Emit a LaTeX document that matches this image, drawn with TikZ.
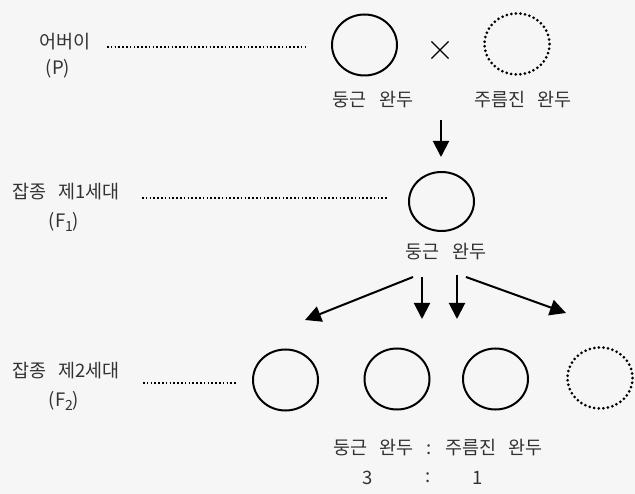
\documentclass[tikz,border=0pt]{standalone}
\usepackage{fontspec}
\setmainfont{Liberation Sans}
\newfontfamily\kr[WordSpace=3]{Noto Sans CJK KR}
\usetikzlibrary{arrows.meta,shapes.geometric,shapes.misc}
\definecolor{bgc}{RGB}{246,246,246}
\definecolor{txtc}{RGB}{50,50,50}
\tikzset{
  ell/.style={ellipse, draw=black, line width=2pt, minimum width=65pt, minimum height=61pt, inner sep=0pt},
  dotcirc/.style={line width=3pt, line cap=round, dash pattern=on 0pt off 4.6pt},
  lbl/.style={font=\kr\fontsize{18.5}{20}\selectfont, text=txtc, inner sep=0pt},
  dotline/.style={line width=1.6pt, dash pattern=on 1.6pt off 2.2pt},
  arr/.style={line width=2pt, -{Triangle[width=16pt,length=16pt]}},
  crossmark/.style={cross out, draw=black, line width=1.2pt, minimum width=16pt, minimum height=16pt, inner sep=0pt}
}
\begin{document}
\begin{tikzpicture}[x=1pt,y=-1pt]
\fill[bgc] (0,0) rectangle (635,494);
\useasboundingbox (0,0) rectangle (635,494);
% P row
\node[lbl] (pa) at (65,42) {어버이};
\node[lbl] (pb) at (58,69) {(P)};
\coordinate (pd1) at (107,47);
\coordinate (pd2) at (305,47);
\draw[dotline] (pd1) -- (pd2);
\node[ell] (p1) at (364.5,45) {};
\node[ell, dotcirc] (p2) at (517,44) {};
\node[crossmark] (x) at (440,50) {};
\node[lbl] (p1l) at (373,100) {둥근 완두};
\node[lbl] (p2l) at (523,100) {주름진 완두};
\coordinate (a0s) at (441,120);
\coordinate (a0e) at (441,157);
\draw[arr] (a0s) -- (a0e);
% F1 row
\node[lbl] (fa) at (66,192) {잡종 제1세대};
\node[lbl] (fb) at (64,222) {(F\raisebox{-4pt}{\fontsize{14}{14}\selectfont 1})};
\coordinate (fd1) at (142,198);
\coordinate (fd2) at (388,198);
\draw[dotline] (fd1) -- (fd2);
\node[ell, minimum height=59pt] (f1) at (441.5,201.5) {};
\node[lbl] (f1l) at (446,252) {둥근 완두};
\coordinate (b1s) at (413,277);
\coordinate (b1e) at (305,320);
\coordinate (b2s) at (422,277);
\coordinate (b2e) at (422,319);
\coordinate (b3s) at (457,275);
\coordinate (b3e) at (457,319);
\coordinate (b4s) at (466,277);
\coordinate (b4e) at (566,313);
\draw[arr] (b1s) -- (b1e);
\draw[arr] (b2s) -- (b2e);
\draw[arr] (b3s) -- (b3e);
\draw[arr] (b4s) -- (b4e);
% F2 row
\node[lbl] (ga) at (66,371) {잡종 제2세대};
\node[lbl] (gb) at (64,401) {(F\raisebox{-4pt}{\fontsize{14}{14}\selectfont 2})};
\coordinate (gd1) at (143,383);
\coordinate (gd2) at (237,383);
\draw[dotline] (gd1) -- (gd2);
\node[ell] (c1) at (285.5,380) {};
\node[ell] (c2) at (397,379) {};
\node[ell] (c3) at (495.5,379) {};
\node[ell, dotcirc] (c4) at (600,378) {};
\node[lbl] (r1) at (438,448) {둥근 완두 : 주름진 완두};
\node[lbl] (r3) at (368,478) {3};
\node[lbl] (rc) at (428,478) {:};
\node[lbl] (r4) at (478,478) {1};
\end{tikzpicture}
\end{document}
